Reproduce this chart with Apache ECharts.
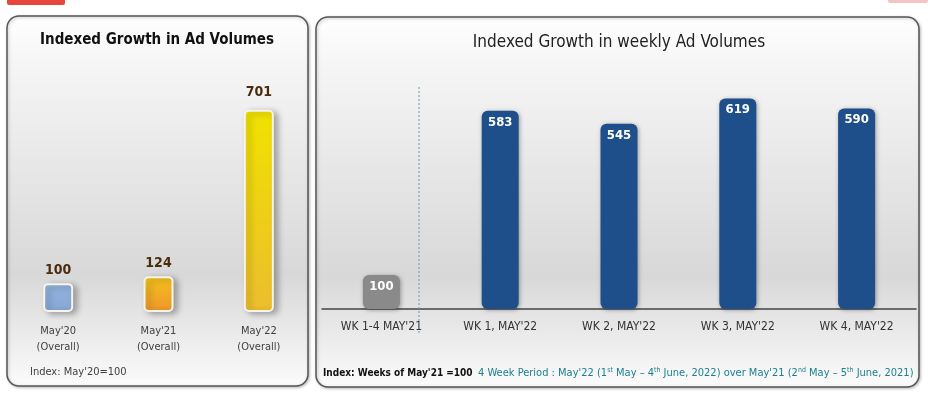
<!DOCTYPE html>
<html>
<head>
<meta charset="utf-8">
<script src="https://cdn.jsdelivr.net/npm/echarts@6/dist/echarts.min.js"></script>
<style>
  html, body { margin: 0; padding: 0; background: #fff; }
  #chart { width: 930px; height: 398px; }
</style>
</head>
<body>
<div id="chart"></div>
<script>
// data
const overallCats = ["May'20\n(Overall)", "May'21\n(Overall)", "May'22\n(Overall)"]
const overallValues = [100, 124, 701]
const weeklyCats = ["WK 1-4 MAY'21", "WK 1, MAY'22", "WK 2, MAY'22", "WK 3, MAY'22", "WK 4, MAY'22"]
const weeklyValues = [100, 583, 545, 619, 590]

const FONT = "'DejaVu Sans Condensed', 'Liberation Sans Narrow', Roboto, sans-serif"

const grad = (a, b) => new echarts.graphic.LinearGradient(0, 0, 0, 1, [
  { offset: 0, color: a },
  { offset: 1, color: b }
])
const overallColors = [grad('#93b3de', '#86a8d6'), grad('#f3c21a', '#ee962f'), grad('#f1e200', '#ecbd2e')]

const panelFill = () => new echarts.graphic.LinearGradient(0, 0, 0, 1, [
  { offset: 0, color: '#ffffff' },
  { offset: 0.12, color: '#f6f6f6' },
  { offset: 0.7, color: '#d8d8d8' },
  { offset: 1, color: '#fbfbfb' }
])

const chart = echarts.init(document.getElementById('chart'))
const option = {
  animation: false,
  graphic: [
    // logo fragments at top edge
    { type: 'rect', shape: { x: 7, y: -4, width: 58, height: 9, r: 2 }, style: { fill: '#e8453c' }, z: 0 },
    { type: 'rect', shape: { x: 888, y: -4, width: 40, height: 7, r: 2 }, style: { fill: '#f3c4c4' }, z: 0 },
    // panels
    {
      type: 'rect', z: -1,
      shape: { x: 7, y: 16, width: 301, height: 370, r: 12 },
      style: { fill: panelFill(), stroke: '#555', lineWidth: 1.5, shadowBlur: 3, shadowColor: 'rgba(0,0,0,0.25)', shadowOffsetX: 1, shadowOffsetY: 1 }
    },
    {
      type: 'rect', z: -1,
      shape: { x: 316, y: 17, width: 603, height: 370, r: 12 },
      style: { fill: panelFill(), stroke: '#555', lineWidth: 1.5, shadowBlur: 3, shadowColor: 'rgba(0,0,0,0.25)', shadowOffsetX: 1, shadowOffsetY: 1 }
    },
    // dotted separator
    {
      type: 'line', z: 1,
      shape: { x1: 419, y1: 87, x2: 419, y2: 333 },
      style: { stroke: '#5aa0aa', lineWidth: 1, lineDash: [2, 2] }
    },
    // titles
    {
      type: 'text', z: 5,
      style: { text: 'Indexed Growth in Ad Volumes', x: 157, y: 40, align: 'center', verticalAlign: 'middle', font: 'bold 15px ' + FONT, fill: '#111' }
    },
    {
      type: 'text', z: 5,
      style: { text: 'Indexed Growth in weekly Ad Volumes', x: 619, y: 43, align: 'center', verticalAlign: 'middle', font: '17px ' + FONT, fill: '#222' }
    },
    // footers
    {
      type: 'text', z: 5,
      style: { text: "Index: May'20=100", x: 30, y: 372, verticalAlign: 'middle', font: '11px ' + FONT, fill: '#404040' }
    },
    {
      type: 'text', z: 5,
      style: { text: "Index: Weeks of May'21 =100", x: 323, y: 373, verticalAlign: 'middle', font: 'bold 10px ' + FONT, fill: '#111' }
    },
    {
      type: 'text', z: 5,
      style: {
        text: "4 Week Period : May'22 (1{sup|st} May – 4{sup|th} June, 2022) over May'21 (2{sup|nd} May – 5{sup|th} June, 2021)",
        x: 478, y: 373, verticalAlign: 'middle', font: '11px ' + FONT, fill: '#1a7f8e',
        rich: { sup: { fontSize: 7, fontFamily: FONT, fill: '#1a7f8e', verticalAlign: 'top', padding: [0, 0, 6, 0] } }
      }
    }
  ],
  grid: [
    { left: 8, width: 301, top: 84, height: 228, containLabel: false },
    { left: 322, width: 594, top: 71, height: 238, containLabel: false }
  ],
  xAxis: [
    {
      type: 'category', gridIndex: 0, data: overallCats,
      axisLine: { show: false }, axisTick: { show: false },
      axisLabel: { margin: 11, color: '#404040', fontFamily: FONT, fontSize: 11, lineHeight: 16 }
    },
    {
      type: 'category', gridIndex: 1, data: weeklyCats,
      axisLine: { lineStyle: { color: '#444', width: 1.5 } }, axisTick: { show: false },
      axisLabel: { margin: 12, color: '#333', fontFamily: FONT, fontSize: 12 }
    }
  ],
  yAxis: [
    { type: 'value', gridIndex: 0, min: 0, max: 790, show: false, splitLine: { show: false } },
    { type: 'value', gridIndex: 1, min: 0, max: 700, show: false, splitLine: { show: false } }
  ],
  series: [
    {
      type: 'bar', xAxisIndex: 0, yAxisIndex: 0,
      barWidth: 30,
      data: overallValues.map((v, i) => ({
        value: v,
        itemStyle: { color: overallColors[i] },
        label: i === 2 ? { distance: 10 } : {}
      })),
      itemStyle: {
        borderColor: '#f7f4ea', borderWidth: 2, borderRadius: [4, 4, 4, 4],
        shadowBlur: 6, shadowColor: 'rgba(0,0,0,0.3)', shadowOffsetX: 4, shadowOffsetY: 2
      },
      label: { show: true, position: 'top', distance: 6, color: '#4a2c0c', fontFamily: FONT, fontWeight: 'bold', fontSize: 14 }
    },
    {
      type: 'bar', xAxisIndex: 1, yAxisIndex: 1,
      barWidth: 37,
      data: weeklyValues.map((v, i) => ({
        value: v,
        itemStyle: { color: i === 0 ? '#8a8a8a' : '#1f4f8a' }
      })),
      itemStyle: {
        borderRadius: [6, 6, 6, 6],
        shadowBlur: 4, shadowColor: 'rgba(0,0,0,0.35)', shadowOffsetX: 1, shadowOffsetY: 1
      },
      label: { show: true, position: 'insideTop', distance: 5, color: '#fff', fontFamily: FONT, fontWeight: 'bold', fontSize: 13 }
    }
  ]
}
chart.setOption(option)
</script>
</body>
</html>
